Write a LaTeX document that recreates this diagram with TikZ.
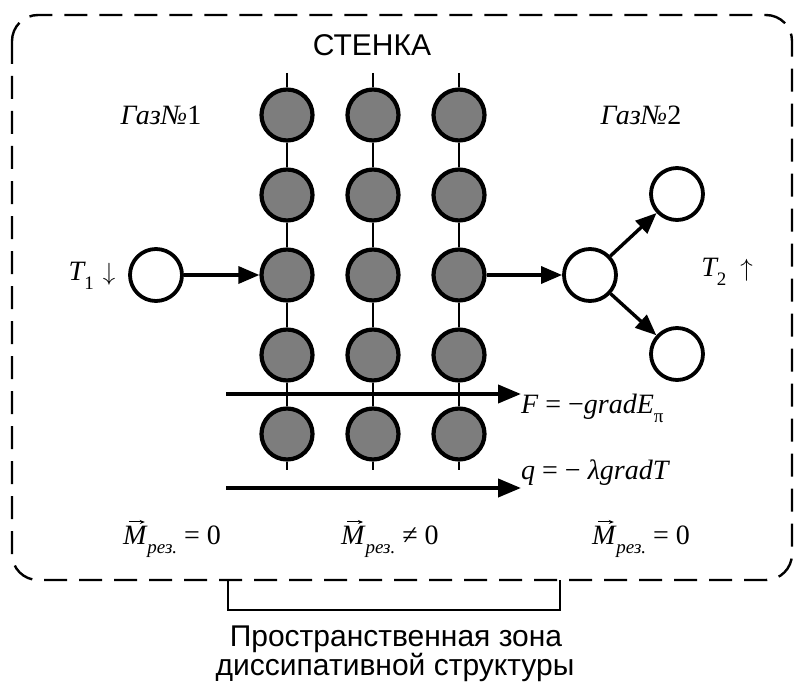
\documentclass[tikz,border=0pt]{standalone}
\usepackage{fontspec}
\setmainfont{Liberation Serif}
\setsansfont{Liberation Sans}
\usetikzlibrary{arrows.meta}
\definecolor{ballgray}{RGB}{125,125,125}
\newcommand\lowsub[1]{\raisebox{-0.32em}{\fontsize{19}{19}\selectfont #1}}
\newcommand\Mres{{\itshape M}\kern1pt\lowsub{\itshape рез.}}
\begin{document}
\begin{tikzpicture}[x=1pt,y=-1pt,
  gball/.style={circle,draw=black,fill=ballgray,line width=4.2pt,minimum size=51pt,inner sep=0pt},
  wball/.style={circle,draw=black,fill=white,line width=3.8pt,minimum size=52pt,inner sep=0pt},
  link/.style={line width=1.6pt},
  flow/.style={line width=3.4pt,-{Triangle[length=21pt,width=17pt]}},
  bigflow/.style={line width=4pt,-{Triangle[length=23pt,width=18pt]}},
  vecarrow/.style={line width=1pt,-{Stealth[length=5pt,width=4pt]}},
  sanslab/.style={font=\fontsize{30}{34}\selectfont\sffamily,inner sep=0pt},
  lab/.style={font=\fontsize{28}{32}\selectfont,inner sep=0pt},
  frame/.style={line width=2.4pt,dash pattern=on 23pt off 12pt,rounded corners=26pt},
  bracket/.style={line width=2pt}]
\fill[white] (0,0) rectangle (798,682);
\useasboundingbox (0,0) rectangle (798,682);
% frame
\draw[frame] (12,15) rectangle (792,580);
% wall text
\node[sanslab] (wall) at (372,45) {СТЕНКА};
% gray balls
\foreach \c/\x in {1/287,2/373,3/459}{
  \coordinate (t\c) at (\x,73);
  \coordinate (b\c) at (\x,470);
  \foreach \r/\y in {1/115,2/195,3/275,4/355,5/434}{
    \node[gball] (g\r\c) at (\x,\y) {};
  }
}
\foreach \c in {1,2,3}{
  \draw[link] (t\c) -- (g1\c);
  \foreach \r/\s in {1/2,2/3,3/4,4/5}{\draw[link] (g\r\c) -- (g\s\c);}
  \draw[link] (g5\c) -- (b\c);
}
% white balls
\node[wball] (w1) at (156,275) {};
\node[wball] (w2) at (590,275) {};
\node[wball] (w3) at (677,194) {};
\node[wball] (w4) at (677,354) {};
\draw[flow] (w1) -- (g31);
\draw[flow] (g33) -- (w2);
\draw[flow] (w2) -- (w3);
\draw[flow] (w2) -- (w4);
% labels
\node[lab] (gas1) at (161,115) {{\itshape Газ№}1};
\node[lab] (gas2) at (641,115) {{\itshape Газ№}2};
\node[lab] (T1) at (92,276) {{\itshape T}\lowsub{1}\hspace{9pt}$\downarrow$};
\node[lab] (T2) at (727,272) {{\itshape T}\lowsub{2}\enspace$\uparrow$};
% gradient arrows
\node[lab,anchor=west] (Fl) at (521,408) {{\itshape F} = −{\itshape gradE}\lowsub{π}};
\node[lab,anchor=west] (ql) at (521,473) {{\itshape q} = − {\itshape λgradT}};
\coordinate (fs) at (226,394);
\coordinate (qs) at (226,488);
\draw[bigflow] (fs) -- (fs -| Fl.west);
\draw[bigflow] (qs) -- (qs -| ql.west);
% resulting moments
\node[lab] (m1) at (172,542) {\Mres\ = 0};
\node[lab] (m2) at (390,542) {\Mres\ ≠ 0};
\node[lab] (m3) at (641,542) {\Mres\ = 0};
\foreach \m in {m1,m2,m3}{
  \draw[vecarrow] ([shift={(6,-4)}]\m.north west) -- ++(16,0);
}
% bracket
\coordinate (bl0) at (228,580);
\coordinate (bl1) at (228,610);
\coordinate (br1) at (560,610);
\coordinate (br0) at (560,580);
\draw[bracket] (bl0) -- (bl1) -- (br1) -- (br0);
\node[sanslab,anchor=base] (z1) at (396,646) {Пространственная зона};
\node[sanslab,anchor=base] (z2) at (395,675) {диссипативной структуры};
\end{tikzpicture}
\end{document}
